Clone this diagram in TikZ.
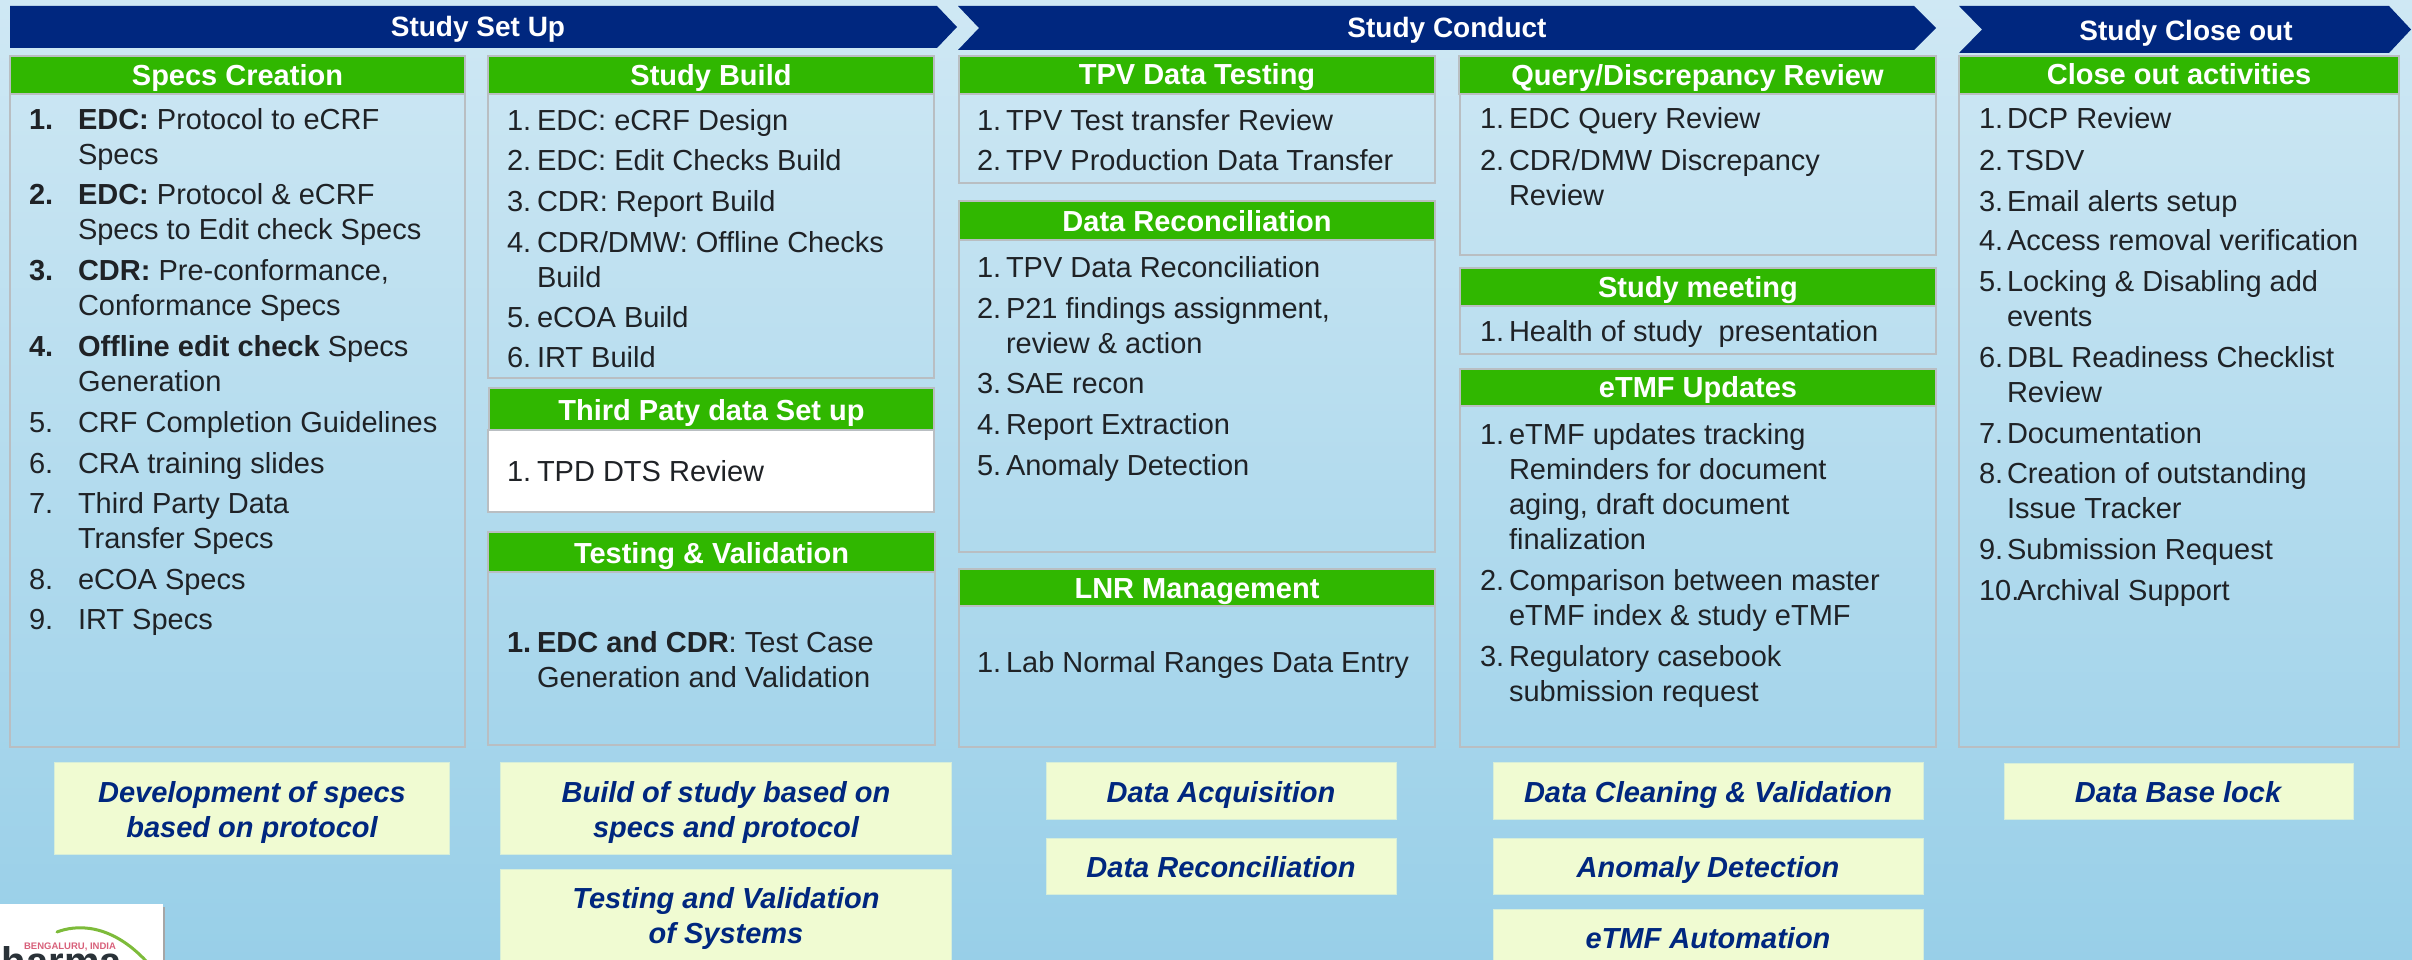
\documentclass[tikz,border=0pt]{standalone}
\usepackage{fontspec}
\setmainfont{Liberation Sans}
\definecolor{bgtop}{HTML}{CFE8F4}
\definecolor{bgbot}{HTML}{98CFE8}
\definecolor{navy}{HTML}{00277F}
\definecolor{hgreen}{HTML}{30B700}
\definecolor{lemon}{HTML}{F0FBD2}
\definecolor{edge}{HTML}{B9BEC2}
\definecolor{ink}{HTML}{1F2226}
\definecolor{logogreen}{HTML}{7DBB3A}
\definecolor{logored}{HTML}{D8607A}
\definecolor{logoink}{HTML}{2A3238}
\tikzset{
  panelbox/.style={draw=edge,line width=1.5pt},
  headbox/.style={fill=hgreen,draw=edge,line width=1.5pt},
  lemonbox/.style={fill=lemon,draw=lemon!70!bgbot,line width=0.8pt},
  bannerbox/.style={fill=navy},
  basetext/.style={inner sep=0pt,outer sep=0pt},
  bannertext/.style={basetext,anchor=base,text=white,font=\fontsize{28}{33}\selectfont\bfseries},
  headtext/.style={basetext,anchor=base,text=white,font=\fontsize{29}{35}\selectfont\bfseries},
  numtext/.style={basetext,anchor=base west,text=ink,font=\fontsize{29}{35}\selectfont},
  itemtext/.style={basetext,anchor=base west,text=ink,font=\fontsize{29}{35}\selectfont},
  lemontext/.style={basetext,anchor=base,text=navy,font=\fontsize{29}{35}\selectfont\bfseries\itshape},
}
% name, number x, text x, baseline y, number, text (lines separated by \\)
\newcommand{\itm}[6]{%
  \node[numtext] (#1n) at (#2,#4) {#5};
  \node[itemtext] (#1) at (#3,#4) {\begin{tabular}[t]{@{}l@{}}#6\end{tabular}};
}
\newcommand{\headpanel}[7]{% name, x0, y0, x1, yhead, ybase, label
  \draw[headbox] (#2,#3) rectangle (#4,#5);
  \node[headtext] (#1) at ({(#2+#4)/2},#6) {#7};
}
\begin{document}
\begin{tikzpicture}[x=1pt,y=-1pt]
\useasboundingbox (0,0) rectangle (2412,960);
\shade[top color=bgtop,bottom color=bgbot,draw=none] (0,0) rectangle (2412,960);

% banners
\fill[bannerbox] (10,6) -- (937,6) -- (957,27) -- (937,48) -- (10,48) -- cycle;
\node[bannertext] (b1) at (478,37) {Study Set Up};
\fill[bannerbox] (958,6) -- (1914,6) -- (1936,28) -- (1914,50) -- (958,50) -- (979,28) -- cycle;
\node[bannertext] (b2) at (1447,38) {Study Conduct};
\fill[bannerbox] (1959,6) -- (2389,6) -- (2411,29.5) -- (2389,53) -- (1959,53) -- (1982,29.5) -- cycle;
\node[bannertext] (b3) at (2186,41) {Study Close out};

% panel outlines
\draw[panelbox] (10,56) rectangle (465,747);
\draw[panelbox] (488,56) rectangle (934,378);
\draw[panelbox,fill=white] (488,430) rectangle (934,512);
\draw[panelbox] (488,532) rectangle (935,745);
\draw[panelbox] (959,56) rectangle (1435,183);
\draw[panelbox] (959,201) rectangle (1435,552);
\draw[panelbox] (959,569) rectangle (1435,747);
\draw[panelbox] (1460,56) rectangle (1936,255);
\draw[panelbox] (1460,268) rectangle (1936,354);
\draw[panelbox] (1460,369) rectangle (1936,747);
\draw[panelbox] (1959,56) rectangle (2399,747);

% green headers
\headpanel{h1}{10}{56}{465}{94}{86}{Specs Creation}
\headpanel{h2}{488}{56}{934}{94}{86}{Study Build}
\headpanel{h3}{489}{388}{934}{430}{420}{Third Paty data Set up}
\headpanel{h4}{488}{532}{935}{572}{563}{Testing \& Validation}
\headpanel{h5}{959}{56}{1435}{94}{85}{TPV Data Testing}
\headpanel{h6}{959}{201}{1435}{240}{232}{Data Reconciliation}
\headpanel{h7}{959}{569}{1435}{606}{598}{LNR Management}
\headpanel{h8}{1459}{56}{1936}{94}{86}{Query/Discrepancy Review}
\headpanel{h9}{1460}{268}{1936}{306}{297}{Study meeting}
\headpanel{h10}{1460}{369}{1936}{406}{397}{eTMF Updates}
\headpanel{h11}{1959}{56}{2399}{94}{85}{Close out activities}

% Specs Creation
\itm{a1}{29}{78}{130}{\textbf{1.}}{\textbf{EDC:} Protocol to eCRF\\Specs}
\itm{a2}{29}{78}{205}{\textbf{2.}}{\textbf{EDC:} Protocol \& eCRF\\Specs to Edit check Specs}
\itm{a3}{29}{78}{280}{\textbf{3.}}{\textbf{CDR:} Pre-conformance,\\Conformance Specs}
\itm{a4}{29}{78}{356}{\textbf{4.}}{\textbf{Offline edit check} Specs\\Generation}
\itm{a5}{29}{78}{432}{5.}{CRF Completion Guidelines}
\itm{a6}{29}{78}{473}{6.}{CRA training slides}
\itm{a7}{29}{78}{513}{7.}{Third Party Data\\Transfer Specs}
\itm{a8}{29}{78}{589}{8.}{eCOA Specs}
\itm{a9}{29}{78}{629}{9.}{IRT Specs}

% Study Build
\itm{c1}{507}{537}{131}{1.}{EDC: eCRF Design}
\itm{c2}{507}{537}{171}{2.}{EDC: Edit Checks Build}
\itm{c3}{507}{537}{212}{3.}{CDR: Report Build}
\itm{c4}{507}{537}{252}{4.}{CDR/DMW: Offline Checks\\Build}
\itm{c5}{507}{537}{327}{5.}{eCOA Build}
\itm{c6}{507}{537}{367}{6.}{IRT Build}
\itm{d1}{507}{537}{481}{1.}{TPD DTS Review}
\itm{e1}{507}{537}{652}{\textbf{1.}}{\textbf{EDC and CDR}: Test Case\\Generation and Validation}

% TPV + reconciliation + LNR
\itm{f1}{977}{1006}{131}{1.}{TPV Test transfer Review}
\itm{f2}{977}{1006}{171}{2.}{TPV Production Data Transfer}
\itm{g1}{977}{1006}{277}{1.}{TPV Data Reconciliation}
\itm{g2}{977}{1006}{318}{2.}{P21 findings assignment,\\review \& action}
\itm{g3}{977}{1006}{393}{3.}{SAE recon}
\itm{g4}{977}{1006}{434}{4.}{Report Extraction}
\itm{g5}{977}{1006}{475}{5.}{Anomaly Detection}
\itm{k1}{977}{1006}{672}{1.}{Lab Normal Ranges Data Entry}

% Query + meeting + eTMF
\itm{m1}{1480}{1509}{129}{1.}{EDC Query Review}
\itm{m2}{1480}{1509}{171}{2.}{CDR/DMW Discrepancy\\Review}
\itm{p1}{1480}{1509}{341}{1.}{Health of study\ \ presentation}
\itm{q1}{1480}{1509}{444}{1.}{eTMF updates tracking\\Reminders for document\\aging, draft document\\finalization}
\itm{q2}{1480}{1509}{590}{2.}{Comparison between master\\eTMF index \& study eTMF}
\itm{q3}{1480}{1509}{666}{3.}{Regulatory casebook\\submission request}

% Close out
\itm{r1}{1979}{2007}{129}{1.}{DCP Review}
\itm{r2}{1979}{2007}{171}{2.}{TSDV}
\itm{r3}{1979}{2007}{212}{3.}{Email alerts setup}
\itm{r4}{1979}{2007}{251}{4.}{Access removal verification}
\itm{r5}{1979}{2007}{291}{5.}{Locking \& Disabling add\\events}
\itm{r6}{1979}{2007}{367}{6.}{DBL Readiness Checklist\\Review}
\itm{r7}{1979}{2007}{443}{7.}{Documentation}
\itm{r8}{1979}{2007}{483}{8.}{Creation of outstanding\\Issue Tracker}
\itm{r9}{1979}{2007}{559}{9.}{Submission Request}
\itm{r10}{1979}{2017}{600}{10.}{Archival Support}

% summary boxes
\draw[lemonbox] (54,762) rectangle (449,854);
\node[lemontext] (s1a) at (252,802) {Development of specs};
\node[lemontext] (s1b) at (252,837) {based on protocol};
\draw[lemonbox] (500,762) rectangle (951,854);
\node[lemontext] (s2a) at (726,802) {Build of study based on};
\node[lemontext] (s2b) at (726,837) {specs and protocol};
\draw[lemonbox] (500,869) rectangle (951,962);
\node[lemontext] (s3a) at (726,908) {Testing and Validation};
\node[lemontext] (s3b) at (726,943) {of Systems};
\draw[lemonbox] (1046,762) rectangle (1396,819);
\node[lemontext] (s4) at (1221,802) {Data Acquisition};
\draw[lemonbox] (1046,838) rectangle (1396,894);
\node[lemontext] (s5) at (1221,877) {Data Reconciliation};
\draw[lemonbox] (1493,762) rectangle (1923,819);
\node[lemontext] (s6) at (1708,802) {Data Cleaning \& Validation};
\draw[lemonbox] (1493,838) rectangle (1923,894);
\node[lemontext] (s7) at (1708,877) {Anomaly Detection};
\draw[lemonbox] (1493,909) rectangle (1923,962);
\node[lemontext] (s8) at (1708,948) {eTMF Automation};
\draw[lemonbox] (2004,763) rectangle (2353,819);
\node[lemontext] (s9) at (2178,802) {Data Base lock};

% logo (cut by the picture's edges)
\fill[black!35] (2,907) rectangle (165,962);
\fill[white] (0,904) rectangle (163,962);
\begin{scope}
\clip (0,904) rectangle (163,960);
\draw[logogreen,line width=3pt,line cap=round] (57,932) .. controls (75,925) and (110,922) .. (147,962);
\node[basetext,anchor=base,text=logored,font=\fontsize{9.5}{11}\selectfont\bfseries] (logotag) at (70,949) {BENGALURU, INDIA};
\node[basetext,anchor=base east,text=logoink,font=\fontsize{40}{44}\selectfont\bfseries] (logoname) at (122,975) {pharma};
\end{scope}
\end{tikzpicture}
\end{document}
